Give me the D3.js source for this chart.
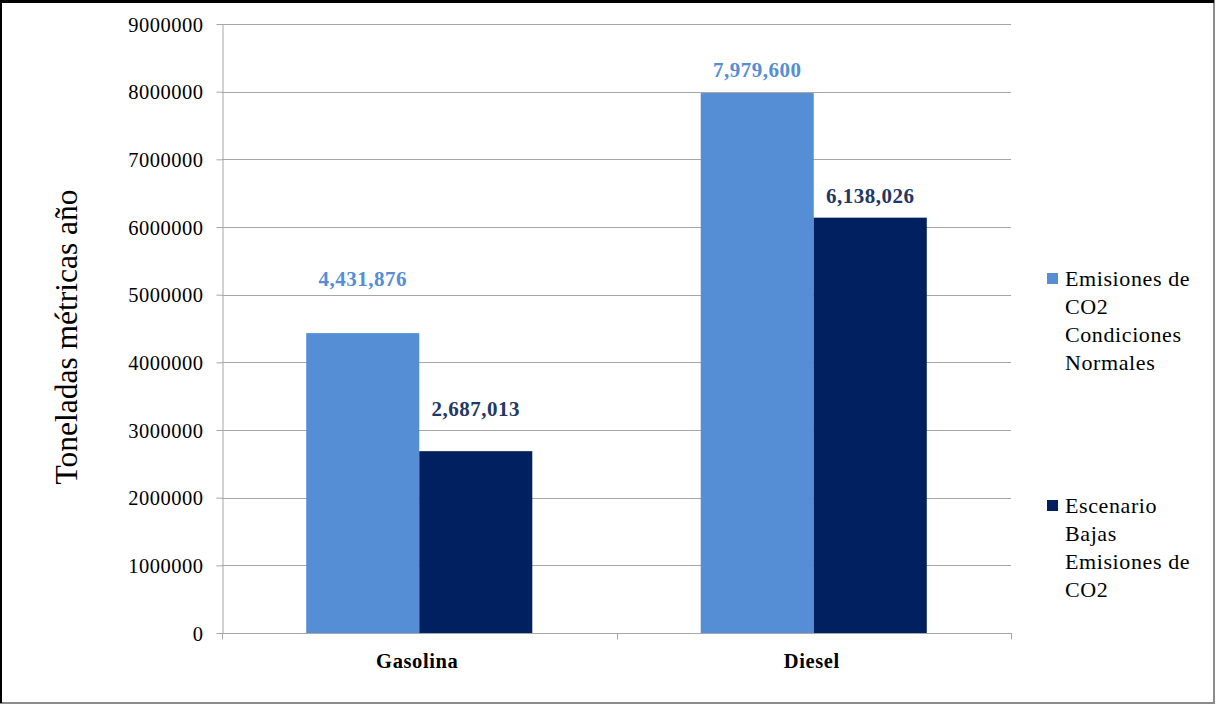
<!DOCTYPE html>
<html>
<head>
<meta charset="utf-8">
<script src="https://cdn.jsdelivr.net/npm/d3@7"></script>
<style>
  html, body { margin: 0; padding: 0; background: #fff; }
  svg { display: block; }
  text { font-family: "Liberation Serif", "Times New Roman", serif; }
</style>
</head>
<body>
<svg id="chart" width="1216" height="705"></svg>
<script>
// Fuel categories and series
const categories = ["Gasolina", "Diesel"];
const seriesNames = [
  "Emisiones de CO2 Condiciones Normales",
  "Escenario Bajas Emisiones de CO2"
];
// Annual emissions (metric tonnes) per series, in category order
const normalValues = [4431876, 7979600];
const lowValues = [2687013, 6138026];
// Legend text, one entry per line
const legendLines = [
  ["Emisiones de", "CO2", "Condiciones", "Normales"],
  ["Escenario", "Bajas", "Emisiones de", "CO2"]
];
const yTicks = [0, 1000000, 2000000, 3000000, 4000000, 5000000, 6000000, 7000000, 8000000, 9000000];
const yTitle = "Toneladas métricas año";

// Styling
const colors = ["#558ed5", "#002060"];
const labelColors = ["#558ed5", "#1f3864"];
// vertical lift of each value label above its bar, px [series][category]
const labelLift = [[47, 16], [35, 15]];

const svg = d3.select("#chart");
const W = 1216, H = 705;
const plot = { left: 222, right: 1011, top: 24, bottom: 633 };

// Frame
svg.append("rect").attr("x", 1).attr("y", 1).attr("width", W - 3).attr("height", H - 3)
  .attr("fill", "#fff").attr("stroke", "#8c8c8c").attr("stroke-width", 2);
svg.append("line").attr("x1", 0).attr("x2", W - 2).attr("y1", 1.5).attr("y2", 1.5)
  .attr("stroke", "#000").attr("stroke-width", 3);
svg.append("line").attr("x1", 1).attr("x2", 1).attr("y1", 0).attr("y2", H - 2)
  .attr("stroke", "#000").attr("stroke-width", 2);

const x = d3.scaleBand().domain(categories).range([plot.left, plot.right]).padding(0);
const xs = d3.scaleBand().domain(d3.range(seriesNames.length)).range([0, x.bandwidth()])
  .paddingInner(0).paddingOuter(0.745);
const y = d3.scaleLinear().domain([0, 9000000]).range([plot.bottom, plot.top]);

// Gridlines
svg.append("g").selectAll("line").data(yTicks.filter(d => d > 0)).join("line")
  .attr("x1", plot.left).attr("x2", plot.right)
  .attr("y1", d => Math.round(y(d)) + 0.5).attr("y2", d => Math.round(y(d)) + 0.5)
  .attr("stroke", "#a6a6a6").attr("stroke-width", 1);

// Y axis
const yAxis = svg.append("g").attr("transform", `translate(${plot.left + 0.5},0)`)
  .call(d3.axisLeft(y).tickValues(yTicks).tickFormat(d3.format("d")).tickSize(6).tickPadding(13).tickSizeOuter(0));
yAxis.attr("font-family", null);
yAxis.select(".domain").attr("stroke", "#a6a6a6");
yAxis.selectAll(".tick line").attr("stroke", "#a6a6a6");
yAxis.selectAll(".tick text")
  .attr("font-size", 20.5).attr("letter-spacing", 0.5).attr("fill", "#000").attr("dy", "0.35em");

// Bars
const seriesValues = [normalValues, lowValues];
seriesValues.forEach((vals, si) => {
  svg.append("g").selectAll("rect").data(categories).join("rect")
    .attr("x", c => x(c) + xs(si))
    .attr("y", (c, i) => y(vals[i]))
    .attr("width", xs.bandwidth())
    .attr("height", (c, i) => y(0) - y(vals[i]))
    .attr("fill", colors[si]);
});

// X axis
const xAxisG = svg.append("g").attr("transform", `translate(0,${plot.bottom + 0.5})`);
xAxisG.append("line").attr("x1", plot.left).attr("x2", plot.right + 1)
  .attr("stroke", "#a6a6a6");
const boundaries = categories.map(c => x(c)).concat([plot.right]);
xAxisG.selectAll("line.tk").data(boundaries).join("line").attr("class", "tk")
  .attr("x1", d => Math.round(d) + 0.5).attr("x2", d => Math.round(d) + 0.5)
  .attr("y1", 0).attr("y2", 6).attr("stroke", "#a6a6a6");
xAxisG.selectAll("text").data(categories).join("text")
  .attr("x", c => x(c) + x.bandwidth() / 2 - 2)
  .attr("y", 34)
  .attr("text-anchor", "middle")
  .attr("font-size", 20.5).attr("font-weight", "bold").attr("letter-spacing", 0.6)
  .text(d => d);

// Value labels
const fmt = d3.format(",");
seriesValues.forEach((vals, si) => {
  svg.append("g").selectAll("text").data(categories).join("text")
    .attr("x", c => x(c) + xs(si) + xs.bandwidth() / 2)
    .attr("y", (c, i) => y(vals[i]) - labelLift[si][i])
    .attr("text-anchor", "middle")
    .attr("font-size", 21).attr("font-weight", "bold").attr("letter-spacing", 0.5)
    .attr("fill", labelColors[si])
    .text((c, i) => fmt(vals[i]));
});

// Y axis title
svg.append("text")
  .attr("transform", "translate(77,337) rotate(-90)")
  .attr("text-anchor", "middle")
  .attr("font-size", 31.5)
  .text(yTitle);

// Legend
const legendTop = [286, 513];
legendLines.forEach((lines, si) => {
  const g = svg.append("g");
  g.append("rect").attr("x", 1047).attr("y", legendTop[si] - 13).attr("width", 11).attr("height", 11)
    .attr("fill", colors[si]);
  g.selectAll("text").data(lines).join("text")
    .attr("x", 1065).attr("y", (d, i) => legendTop[si] + i * 28)
    .attr("font-size", 22).attr("letter-spacing", 0.6)
    .text(d => d);
});
</script>
</body>
</html>
